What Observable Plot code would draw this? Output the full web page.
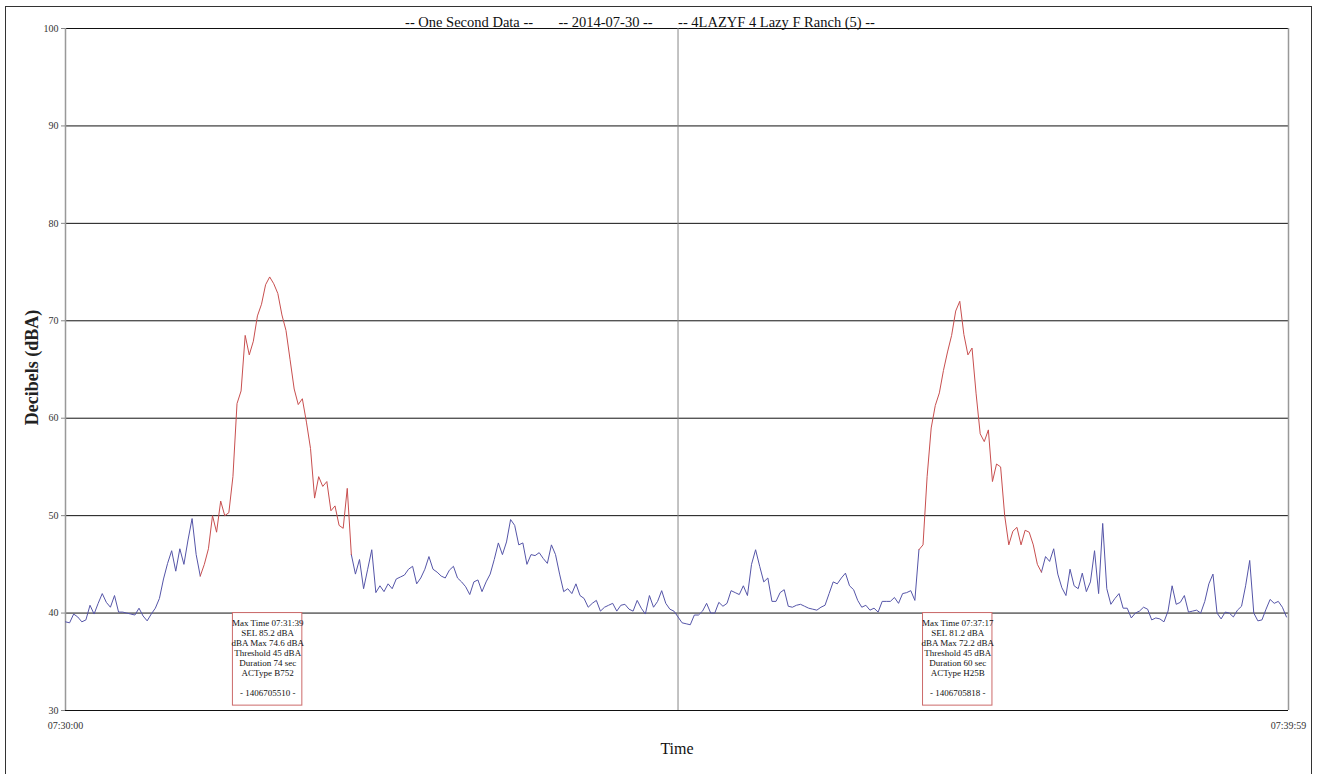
<!DOCTYPE html>
<html>
<head>
<meta charset="utf-8">
<script src="https://cdn.jsdelivr.net/npm/d3@7"></script>
<script src="https://cdn.jsdelivr.net/npm/@observablehq/plot@0.6"></script>
<style>
  html, body { margin: 0; padding: 0; background: #fff; }
  #wrap { position: relative; width: 1317px; height: 774px; }
  #border { position: absolute; left: 5px; top: 6px; width: 1307px; height: 770px; border: 1px solid #333; box-sizing: border-box; pointer-events: none; }
</style>
</head>
<body>
<div id="wrap"><div id="border"></div></div>
<script>
// ---- Data (one reading every 2 seconds, 07:30:00 .. 07:39:58) ----
const titleParts = ["-- One Second Data --", "-- 2014-07-30 --", "-- 4LAZYF 4 Lazy F Ranch (5) --"];
const xTickLabels = ["07:30:00", "07:39:59"];
const xTickSeconds = [0, 599];
const yTicks = [30, 40, 50, 60, 70, 80, 90, 100];

const dBA = [
  39.1, 39.0, 39.9, 39.6, 39.1, 39.3, 40.8, 39.9, 41.0, 42.0,
  41.1, 40.6, 41.8, 40.1, 40.1, 40.0, 39.9, 39.8, 40.5, 39.7,
  39.2, 39.9, 40.5, 41.5, 43.5, 45.1, 46.4, 44.3, 46.6, 45.0,
  47.5, 49.7, 46.0, 43.8, 45.0, 46.6, 50.0, 48.3, 51.5, 50.0,
  50.3, 54.0, 61.5, 62.8, 68.5, 66.5, 67.9, 70.5, 71.7, 73.7,
  74.5, 73.8, 72.8, 70.6, 69.0, 66.0, 63.0, 61.4, 62.0, 59.6,
  56.9, 51.8, 54.0, 53.0, 53.5, 50.5, 51.0, 49.0, 48.7, 52.8,
  46.0, 44.0, 45.5, 42.5, 44.5, 46.5, 42.1, 42.8, 42.2, 43.0,
  42.5, 43.5, 43.7, 43.9, 44.5, 44.8, 43.0, 43.6, 44.5, 45.8,
  44.5, 44.2, 43.8, 43.6, 44.4, 44.8, 43.6, 43.2, 42.7, 41.9,
  43.2, 43.4, 42.2, 43.2, 44.0, 45.5, 47.2, 46.0, 47.3, 49.6,
  49.0, 47.0, 47.2, 45.0, 46.0, 45.9, 46.2, 45.6, 45.1, 47.0,
  46.0, 44.0, 42.2, 42.5, 42.0, 43.0, 41.8, 41.5, 40.6, 41.0,
  41.3, 40.2, 40.6, 40.8, 41.0, 40.2, 40.8, 40.9, 40.4, 40.2,
  41.3, 40.5, 39.9, 41.8, 40.6, 41.2, 42.3, 41.0, 40.4, 40.2,
  39.6, 39.0, 38.9, 38.8, 39.8, 39.8, 40.2, 41.0, 40.0, 40.0,
  41.1, 40.7, 41.0, 42.3, 42.1, 41.9, 42.8, 41.8, 45.0, 46.5,
  44.8, 43.2, 43.6, 41.2, 41.2, 42.1, 42.4, 40.7, 40.6, 40.8,
  40.9, 40.7, 40.5, 40.4, 40.3, 40.6, 40.8, 42.0, 43.2, 43.0,
  43.6, 44.1, 42.8, 42.4, 41.3, 40.6, 40.8, 40.3, 40.5, 40.1,
  41.2, 41.2, 41.2, 41.6, 41.0, 42.0, 42.1, 42.3, 41.3, 46.5,
  47.0, 54.0, 59.0, 61.3, 62.6, 64.9, 66.8, 68.5, 71.0, 72.0,
  68.6, 66.5, 67.2, 62.5, 58.4, 57.6, 58.8, 53.5, 55.3, 55.0,
  50.0, 47.0, 48.4, 48.8, 47.0, 48.5, 48.3, 47.0, 45.0, 44.2,
  45.8, 45.3, 46.6, 44.0, 42.6, 41.8, 44.5, 42.8, 42.5, 44.1,
  42.2, 43.2, 46.4, 42.0, 49.2, 42.5, 40.9, 41.5, 42.0, 40.5,
  40.5, 39.5, 40.0, 40.2, 40.6, 40.4, 39.3, 39.5, 39.4, 39.1,
  40.2, 42.8, 40.9, 41.1, 41.8, 40.1, 40.2, 40.3, 40.0, 41.2,
  43.0, 44.0, 40.0, 39.4, 40.1, 40.0, 39.6, 40.3, 40.7, 42.8,
  45.4, 40.0, 39.2, 39.3, 40.4, 41.4, 41.0, 41.2, 40.6, 39.6
];
const seconds = dBA.map((_, i) => i * 2);

// ---- Events ----
const eventStart = [66, 418];
const eventEnd = [140, 478];
const eventMaxSecond = [99, 437];
const eventMaxTime = ["07:31:39", "07:37:17"];
const eventSEL = [85.2, 81.2];
const eventMax = [74.6, 72.2];
const eventThreshold = [45, 45];
const eventDuration = [74, 60];
const eventACType = ["B752", "H25B"];
const eventId = ["1406705510", "1406705818"];

// ---- Build line segments ----
const bounds = [0];
eventStart.forEach((s, i) => { bounds.push(s, eventEnd[i]); });
bounds.push(seconds[seconds.length - 1]);
const rows = [];
for (let k = 0; k < bounds.length - 1; k++) {
  const a = bounds[k], b = bounds[k + 1];
  seconds.forEach((t, i) => {
    if (t >= a && t <= b) rows.push({t, v: dBA[i], seg: k, kind: k % 2 ? "event" : "base"});
  });
}

const events = eventStart.map((s, i) => ({
  t: eventMaxSecond[i],
  label: `Max Time ${eventMaxTime[i]}\nSEL ${eventSEL[i].toFixed(1)} dBA\ndBA Max ${eventMax[i].toFixed(1)} dBA\nThreshold ${eventThreshold[i]} dBA\nDuration ${eventDuration[i]} sec\nACType ${eventACType[i]}\n\n- ${eventId[i]} -`
}));

const serif = "'Liberation Serif', 'Times New Roman', serif";
const title = titleParts.join("\u00a0\u00a0\u00a0\u00a0\u00a0\u00a0\u00a0");

const chart = Plot.plot({
  width: 1317,
  height: 774,
  marginLeft: 65,
  marginRight: 29,
  marginTop: 28,
  marginBottom: 64,
  style: {fontFamily: serif, background: "transparent", color: "#222"},
  x: {type: "linear", domain: [0, 599], axis: null},
  y: {type: "linear", domain: [30, 100], axis: null},
  marks: [
    Plot.ruleY(yTicks, {stroke: "#111", strokeWidth: 1}),
    Plot.ruleX([0, 599], {stroke: "#999", strokeWidth: 1.5}),
    Plot.ruleX([300], {stroke: "#888", strokeWidth: 1}),
    Plot.axisY(yTicks, {tickSize: 4, tickPadding: 3, fontSize: 10, stroke: "#888", label: null, fill: "#333"}),
    Plot.line(rows.filter(d => d.kind === "base"), {x: "t", y: "v", z: "seg", stroke: "#5555a8", strokeWidth: 1}),
    Plot.line(rows.filter(d => d.kind === "event"), {x: "t", y: "v", z: "seg", stroke: "#c84f4f", strokeWidth: 1}),
    Plot.rect(events, {x1: d => d.t - 17, x2: d => d.t + 17, y1: 40, y2: 30.5, fill: "#fff", stroke: "#cc6a6a", strokeWidth: 1}),
    Plot.text(events, {x: "t", y: 40, text: "label", lineAnchor: "top", dy: 6, fontSize: 9, lineHeight: 1.11, fill: "#111"}),
    Plot.text(xTickLabels, {x: (d, i) => xTickSeconds[i], y: 30, dy: 15, fontSize: 10, fill: "#333"}),
    Plot.text([title], {frameAnchor: "top", dx: -37, dy: -2, lineAnchor: "bottom", fontSize: 14.5, fill: "#111"}),
    Plot.text(["Time"], {frameAnchor: "bottom", dy: 43, fontSize: 16, fill: "#111"}),
    Plot.text(["Decibels (dBA)"], {frameAnchor: "left", dx: -33, dy: -2, rotate: -90, textAnchor: "middle", fontSize: 18, fontWeight: "bold", fill: "#222"})
  ]
});
document.getElementById("wrap").prepend(chart);
</script>
</body>
</html>
